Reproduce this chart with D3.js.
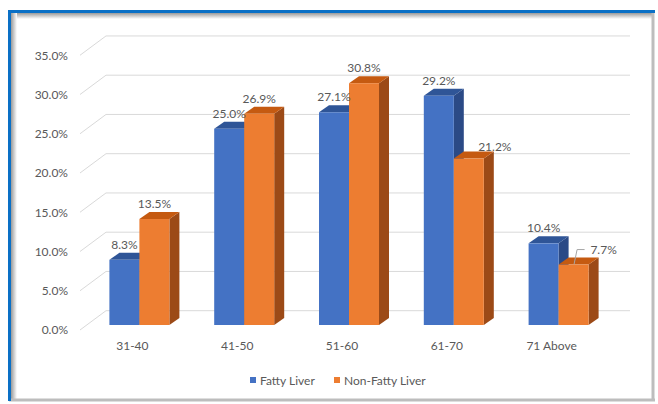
<!DOCTYPE html>
<html>
<head>
<meta charset="utf-8">
<script src="https://cdn.jsdelivr.net/npm/d3@7"></script>
<style>
  body { margin: 0; background: #fff; }
  text { font-family: Lato, "Open Sans", sans-serif; }
</style>
</head>
<body>
<script>
var categories = ["31-40", "41-50", "51-60", "61-70", "71 Above"];
var fatty = [8.3, 25.0, 27.1, 29.2, 10.4];
var nonFatty = [13.5, 26.9, 30.8, 21.2, 7.7];
var seriesNames = ["Fatty Liver", "Non-Fatty Liver"];
var yTicks = [0, 5, 10, 15, 20, 25, 30, 35];

var width = 658, height = 404;
var fontSize = 12;
var svg = d3.select("body").append("svg")
  .attr("width", width)
  .attr("height", height);

// frame
var defs = svg.append("defs");
var shadow = defs.append("linearGradient").attr("id", "shTop").attr("x1", 0).attr("y1", 0).attr("x2", 0).attr("y2", 1);
shadow.append("stop").attr("offset", 0).attr("stop-color", "#9a9a9a");
shadow.append("stop").attr("offset", 1).attr("stop-color", "#fff");
var shadowL = defs.append("linearGradient").attr("id", "shLeft").attr("x1", 0).attr("y1", 0).attr("x2", 1).attr("y2", 0);
shadowL.append("stop").attr("offset", 0).attr("stop-color", "#9a9a9a");
shadowL.append("stop").attr("offset", 1).attr("stop-color", "#fff");

svg.append("rect").attr("x", 12).attr("y", 13).attr("width", 640).attr("height", 6).attr("fill", "url(#shTop)");
svg.append("rect").attr("x", 11).attr("y", 13).attr("width", 6).attr("height", 386).attr("fill", "url(#shLeft)");
svg.append("line").attr("x1", 653).attr("x2", 653).attr("y1", 12).attr("y2", 401).attr("stroke", "#bdbdbd").attr("stroke-width", 3);
svg.append("line").attr("x1", 9).attr("x2", 655).attr("y1", 400).attr("y2", 400).attr("stroke", "#bdbdbd").attr("stroke-width", 3);
svg.append("line").attr("x1", 8).attr("x2", 655).attr("y1", 11.5).attr("y2", 11.5).attr("stroke", "#0a70c6").attr("stroke-width", 3);
svg.append("line").attr("x1", 9.5).attr("x2", 9.5).attr("y1", 10).attr("y2", 401).attr("stroke", "#0a70c6").attr("stroke-width", 3);

// scales: floor front plane
var x = d3.scaleBand().domain(categories).range([80, 604]);
var y = d3.scaleLinear().domain([0, 35]).range([330, 55.25]);
var wallDx = 26, wallDy = -19.3;
var barDx = 7, barDy = -5;
var depthDx = 10, depthDy = -7;
var barW = 30;

// gridlines: back wall + left wall diagonals
var grid = svg.append("g");
grid.selectAll(".hl").data(yTicks).enter().append("line")
  .attr("x1", 80 + wallDx).attr("x2", 604 + wallDx)
  .attr("y1", function (d) { return y(d) + wallDy; })
  .attr("y2", function (d) { return y(d) + wallDy; })
  .attr("stroke", "#d9d9d9").attr("stroke-width", 1);
grid.selectAll(".dl").data(yTicks).enter().append("line")
  .attr("x1", 80).attr("x2", 80 + wallDx)
  .attr("y1", function (d) { return y(d); })
  .attr("y2", function (d) { return y(d) + wallDy; })
  .attr("stroke", "#d9d9d9").attr("stroke-width", 1);

// y axis labels
var yAxis = svg.append("g").attr("transform", "translate(72,0)")
  .call(d3.axisLeft(y).tickValues(yTicks).tickSize(0).tickPadding(4)
    .tickFormat(function (d) { return d.toFixed(1) + "%"; }));
yAxis.select(".domain").remove();
yAxis.selectAll("text").attr("font-size", fontSize).attr("fill", "#595959")
  .style("font-family", "Lato, 'Open Sans', sans-serif");

// x axis labels
var xAxis = svg.append("g").attr("transform", "translate(0,337)")
  .call(d3.axisBottom(x).tickSize(0).tickPadding(4));
xAxis.select(".domain").remove();
xAxis.selectAll("text").attr("font-size", fontSize).attr("fill", "#595959")
  .style("font-family", "Lato, 'Open Sans', sans-serif");

var series = [
  { name: seriesNames[0], values: fatty, front: "#4472c4", top: "#2f5597", side: "#2b4a86", off: -barW },
  { name: seriesNames[1], values: nonFatty, front: "#ed7d31", top: "#c55a11", side: "#9c4a17", off: 0 }
];

var bars = svg.append("g");
var labels = svg.append("g");
series.forEach(function (s) {
  var g = bars.append("g");
  var rows = categories.map(function (c, i) { return { c: c, v: s.values[i], i: i }; });
  function x0(d) { return x(d.c) + x.bandwidth() / 2 + barDx + s.off; }
  function yb() { return y(0) + barDy; }
  function yt(d) { return y(d.v) + barDy; }
  // side face
  g.selectAll(".side").data(rows).enter().append("path")
    .attr("fill", s.side)
    .attr("d", function (d) {
      var xr = x0(d) + barW;
      return "M" + xr + "," + yb() + "L" + (xr + depthDx) + "," + (yb() + depthDy) +
        "L" + (xr + depthDx) + "," + (yt(d) + depthDy) + "L" + xr + "," + yt(d) + "Z";
    });
  // top face
  g.selectAll(".top").data(rows).enter().append("path")
    .attr("fill", s.top)
    .attr("d", function (d) {
      var xl = x0(d);
      return "M" + xl + "," + yt(d) + "L" + (xl + depthDx) + "," + (yt(d) + depthDy) +
        "L" + (xl + barW + depthDx) + "," + (yt(d) + depthDy) + "L" + (xl + barW) + "," + yt(d) + "Z";
    });
  // front face
  g.selectAll(".front").data(rows).enter().append("rect")
    .attr("fill", s.front)
    .attr("x", x0)
    .attr("y", yt)
    .attr("width", barW)
    .attr("height", function (d) { return yb() - yt(d); });

  // value labels (orange labels that would sit on a blue side face are nudged right, as Excel did)
  labels.append("g").selectAll("text").data(rows).enter().append("text")
    .attr("text-anchor", "middle")
    .attr("font-size", fontSize)
    .attr("fill", "#595959")
    .attr("x", function (d) {
      var cx = x0(d) + barW / 2;
      if (s.off === 0 && d.i === 3) return cx + 26;
      if (s.off === 0 && d.i === 4) return cx + 30;
      return cx;
    })
    .attr("y", function (d) {
      if (s.off === 0 && d.i === 3) return yt(d) - 8;
      return yt(d) - 11;
    })
    .text(function (d) { return d.v.toFixed(1) + "%"; });
});

// leader line for the last orange label
var lastX = x(categories[4]) + x.bandwidth() / 2 + barDx + barW / 2;
var lastY = y(nonFatty[4]) + barDy;
svg.append("path")
  .attr("fill", "none").attr("stroke", "#a6a6a6").attr("stroke-width", 1)
  .attr("d", "M" + (lastX + 0.5) + "," + (lastY - 0.5) + "L" + (lastX + 3.5) + "," + (lastY - 15) + "L" + (lastX + 11) + "," + (lastY - 15));

// legend
var legend = svg.append("g").attr("transform", "translate(250,380)");
var lx = [0, 84];
series.forEach(function (s, i) {
  legend.append("rect").attr("x", lx[i]).attr("y", -3).attr("width", 6).attr("height", 6).attr("fill", s.front);
  legend.append("text").attr("x", lx[i] + 10).attr("y", 4.5)
    .attr("font-size", fontSize).attr("fill", "#595959").text(s.name);
});
</script>
</body>
</html>
